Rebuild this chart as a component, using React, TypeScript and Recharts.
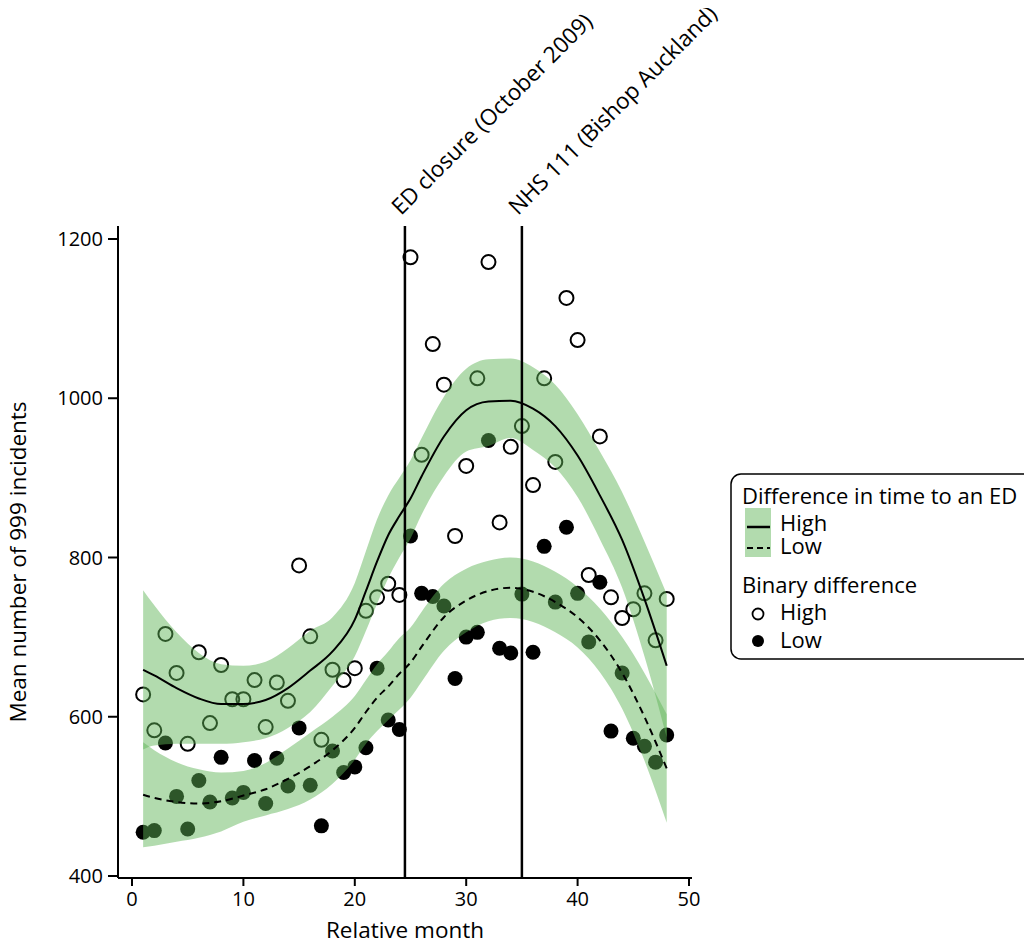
import { ComposedChart, Scatter, Area, Line, XAxis, YAxis, ReferenceLine } from 'recharts';

// observed monthly means
const months = [1, 2, 3, 4, 5, 6, 7, 8, 9, 10, 11, 12, 13, 14, 15, 16, 17, 18, 19, 20, 21, 22, 23, 24,
  25, 26, 27, 28, 29, 30, 31, 32, 33, 34, 35, 36, 37, 38, 39, 40, 41, 42, 43, 44, 45, 46, 47, 48];
const highPts = [628, 583, 704, 655, 566, 681, 592, 665, 622, 622, 646, 587, 643, 620, 790, 701, 571, 659, 646, 661,
  733, 750, 767, 753, 1177, 929, 1068, 1017, 827, 915, 1025, 1171, 844, 939, 965, 891, 1025, 920, 1126, 1073,
  778, 952, 750, 724, 735, 755, 696, 748];
const lowPts = [455, 457, 567, 500, 459, 520, 493, 549, 498, 505, 545, 491, 548, 513, 586, 514, 463, 557, 530, 537,
  561, 661, 596, 584, 827, 755, 751, 739, 648, 700, 706, 947, 686, 680, 754, 681, 814, 744, 838, 755,
  694, 769, 582, 655, 573, 563, 543, 577];

// fitted curves + confidence bands
const fitMonths = [1, 2, 4, 6, 8, 10, 12, 14, 16, 18, 20, 21, 22, 23, 24, 25, 26, 28, 30, 32, 34, 36, 38, 40, 42, 44, 46, 48];
const highFit = [659, 652, 636, 623, 616, 616, 621, 636, 658, 682, 722, 758, 795, 828, 852, 874, 902, 952, 985, 996, 997, 987, 965, 928, 878, 822, 748, 664];
const highHi = [759, 740, 706, 680, 666, 664, 669, 686, 708, 725, 768, 808, 848, 878, 900, 922, 950, 1002, 1037, 1049, 1050, 1039, 1017, 980, 933, 882, 820, 754];
const highLo = [559, 564, 566, 566, 566, 568, 573, 586, 606, 639, 676, 708, 742, 774, 800, 824, 854, 902, 933, 940, 950, 935, 913, 876, 823, 762, 676, 574];
const lowFit = [502, 498, 493, 491, 494, 501, 509, 522, 538, 558, 586, 606, 624, 638, 654, 668, 688, 725, 746, 758, 762, 757, 744, 725, 696, 655, 600, 535];
const lowHi = [568, 558, 543, 534, 530, 532, 542, 560, 580, 600, 626, 646, 666, 682, 699, 712, 732, 767, 786, 796, 800, 795, 782, 763, 736, 700, 655, 603];
const lowLo = [436, 438, 443, 448, 456, 468, 476, 484, 496, 516, 546, 566, 582, 596, 609, 624, 644, 683, 706, 720, 724, 719, 706, 687, 656, 610, 545, 467];

const xTicks = [0, 10, 20, 30, 40, 50];
const yTicks = [400, 600, 800, 1000, 1200];
const events = [
  { month: 24.5, label: 'ED closure (October 2009)' },
  { month: 35, label: 'NHS 111 (Bishop Auckland)' },
];

const FONT = '"Open Sans", "Noto Sans", sans-serif';
const BAND = '#5fb455';
const LABEL_SIZE = 22.5;

const highData = months.map((m, i) => ({ month: m, v: highPts[i] }));
const lowData = months.map((m, i) => ({ month: m, v: lowPts[i] }));
const highCurve = fitMonths.map((m, i) => ({ month: m, v: highFit[i], lo: highLo[i], hi: highHi[i] }));
const lowCurve = fitMonths.map((m, i) => ({ month: m, v: lowFit[i], lo: lowLo[i], hi: lowHi[i] }));

const OpenDot = (p: any) => <circle cx={p.cx} cy={p.cy} r={7} fill="none" stroke="#000" strokeWidth={2} />;
const FilledDot = (p: any) => <circle cx={p.cx} cy={p.cy} r={7.5} fill="#000" />;

function EventLabel({ viewBox, text }: any) {
  if (!viewBox) return null;
  const x = viewBox.x - 4;
  const y = viewBox.y - 10;
  return (
    <text x={x} y={y} transform={`rotate(-45 ${x} ${y})`} fontSize={LABEL_SIZE} fill="#000" fontFamily={FONT}>{text}</text>
  );
}

function XLabel({ viewBox }: any) {
  if (!viewBox) return null;
  return <text x={viewBox.x + viewBox.width / 2} y={viewBox.y + 60} textAnchor="middle" fontSize={LABEL_SIZE} fill="#000" fontFamily={FONT}>Relative month</text>;
}

function YLabel({ viewBox }: any) {
  if (!viewBox) return null;
  const x = 18;
  const y = viewBox.y + viewBox.height / 2 + 10;
  return <text x={x} y={y} transform={`rotate(-90 ${x} ${y})`} textAnchor="middle" fontSize={LABEL_SIZE} fill="#000" fontFamily={FONT}>Mean number of 999 incidents</text>;
}

function LegendBox() {
  const fs = 22;
  return (
    <svg width={310} height={190} style={{ position: 'absolute', left: 722, top: 465, fontFamily: FONT }}>
      <rect x={1} y={1} width={340} height={185} rx={10} fill="#fff" stroke="#000" strokeWidth={1.5} />
      <text x={12} y={31} fontSize={fs}>Difference in time to an ED</text>
      <rect x={15} y={35} width={26} height={49} fill={BAND} fillOpacity={0.48} />
      <line x1={17} x2={40} y1={54} y2={54} stroke="#000" strokeWidth={2.5} />
      <line x1={17} x2={40} y1={75} y2={75} stroke="#000" strokeWidth={2} strokeDasharray="6 4" />
      <text x={50} y={58} fontSize={fs}>High</text>
      <text x={50} y={81} fontSize={fs}>Low</text>
      <text x={12} y={120} fontSize={fs}>Binary difference</text>
      <circle cx={28} cy={141} r={5.5} fill="none" stroke="#000" strokeWidth={1.8} />
      <text x={50} y={147} fontSize={fs}>High</text>
      <circle cx={28} cy={168} r={6} fill="#000" />
      <text x={50} y={175} fontSize={fs}>Low</text>
    </svg>
  );
}

export default function App() {
  const axisLine = { stroke: '#000', strokeWidth: 2 };
  const tick = { fill: '#000', fontSize: 20, fontFamily: FONT };
  return (
    <div style={{ position: 'relative', width: 1024, height: 934, overflow: 'hidden', background: '#fff' }}>
      <ComposedChart width={1024} height={934} margin={{ top: 218, right: 340, bottom: 34, left: 50 }}
        style={{ fontFamily: FONT, overflow: 'visible' }}>
        <XAxis type="number" dataKey="month" domain={[-1.257, 50.27]} ticks={xTicks} allowDataOverflow
          axisLine={axisLine} tickLine={axisLine} tickSize={8} tickMargin={6} tick={tick} height={30}
          label={<XLabel />} />
        <YAxis type="number" domain={[397.5, 1216.3]} ticks={yTicks} allowDataOverflow width={60}
          axisLine={axisLine} tickLine={axisLine} tickSize={10} tickMargin={5} tick={tick}
          label={<YLabel />} />
        <Scatter data={highData} dataKey="v" shape={OpenDot} isAnimationActive={false} zIndex={50} />
        <Scatter data={lowData} dataKey="v" shape={FilledDot} isAnimationActive={false} zIndex={50} />
        <Area data={highCurve} dataKey={(d: any) => [d.lo, d.hi]} type="monotone" stroke="none" fill={BAND}
          fillOpacity={0.48} activeDot={false} isAnimationActive={false} zIndex={100} />
        <Area data={lowCurve} dataKey={(d: any) => [d.lo, d.hi]} type="monotone" stroke="none" fill={BAND}
          fillOpacity={0.48} activeDot={false} isAnimationActive={false} zIndex={100} />
        <Line data={highCurve} dataKey="v" type="monotone" stroke="#000" strokeWidth={2} dot={false}
          activeDot={false} isAnimationActive={false} zIndex={400} />
        <Line data={lowCurve} dataKey="v" type="monotone" stroke="#000" strokeWidth={2} strokeDasharray="7 5"
          dot={false} activeDot={false} isAnimationActive={false} zIndex={400} />
        {events.map(e => (
          <ReferenceLine key={e.label} x={e.month} stroke="#000" strokeWidth={2.5} zIndex={450}
            label={<EventLabel text={e.label} />} />
        ))}
      </ComposedChart>
      <LegendBox />
    </div>
  );
}
